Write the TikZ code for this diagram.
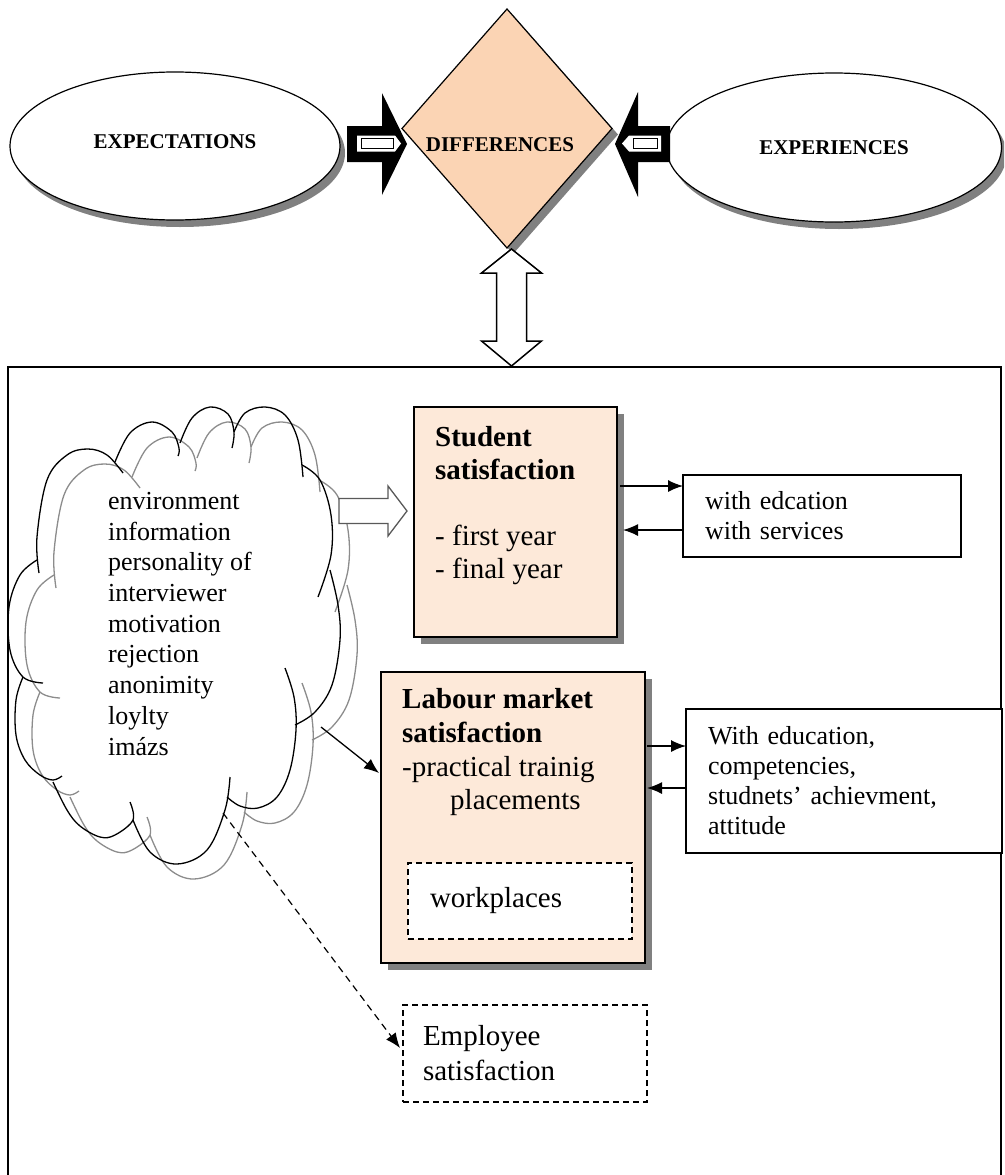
\documentclass[tikz,border=0pt]{standalone}
\usepackage{fontspec}
\setmainfont{Liberation Serif}
\usetikzlibrary{shapes.geometric,shadows,arrows.meta,calc}
\definecolor{peach}{HTML}{FBD4B4}
\definecolor{lightpeach}{HTML}{FDE9D9}
\definecolor{shadowgray}{HTML}{808080}
\definecolor{cloudgray}{HTML}{8C8C8C}
\definecolor{arrowgray}{HTML}{595959}
\begin{document}
\begin{tikzpicture}[x=1pt,y=-1pt,
  bigell/.style={ellipse, draw, line width=1.2pt, fill=white, inner sep=0pt, outer sep=0pt,
     font=\fontsize{21}{25}\selectfont\bfseries,
     drop shadow={shadow xshift=5pt, shadow yshift=-7pt, fill=shadowgray, opacity=1}},
  satbox/.style={rectangle, draw, line width=1.2pt, fill=lightpeach, inner sep=0pt, outer sep=0pt, anchor=north west,
     drop shadow={shadow xshift=7pt, shadow yshift=-7pt, fill=shadowgray, opacity=1}},
  plainbox/.style={rectangle, draw, line width=1.2pt, fill=white, anchor=north west, outer sep=0pt,
     align=left, inner xsep=22pt, inner ysep=0pt, font=\fontsize{26}{30}\selectfont},
  dashbox/.style={rectangle, draw, line width=1.2pt, dash pattern=on 6pt off 4pt, fill=white, anchor=north west,
     outer sep=0pt, align=left, inner ysep=0pt, font=\fontsize{29}{35}\selectfont},
  intext/.style={anchor=north west, inner sep=0pt, align=left},
  arr/.style={line width=1.3pt, -{Latex[length=15pt,width=12pt]}},
  dasharr/.style={line width=1.2pt, dash pattern=on 7pt off 5pt, -{Latex[length=15pt,width=12pt]}},
  cloudline/.style={line width=1.3pt, smooth, tension=0.6}
]
\path[use as bounding box] (0,0) rectangle (1004,1175);
\clip (0,0) rectangle (1004,1175);

% outer frame
\draw[line width=1.5pt] (8,367) rectangle (1001,1200);

% ellipses
\node[bigell, minimum width=330pt, minimum height=148pt, text depth=8pt] (expect) at (175,146) {EXPECTATIONS};
\node[bigell, minimum width=335pt, minimum height=149pt] (exper) at (834,147.5) {EXPERIENCES};

% diamond
\node[diamond, draw, line width=1.2pt, fill=peach, inner sep=0pt, outer sep=0pt,
      minimum width=210pt, minimum height=239pt,
      drop shadow={shadow xshift=6pt, shadow yshift=-6pt, fill=shadowgray, opacity=1}] (dif) at (507,128.5) {};
\node[inner sep=0pt, font=\fontsize{21}{25}\selectfont\bfseries] (diflbl) at ($(dif.center)+(-7,16.5)$) {DIFFERENCES};

% black block arrows
\fill (347,126) -- (382,126) -- (382,93) -- (407,144) -- (382,195) -- (382,162) -- (347,162) -- cycle;
\fill[white] (357,135.5) -- (395,135.5) -- (401,143.5) -- (395,151.5) -- (357,151.5) -- cycle;
\draw[line width=0.9pt, fill=white] (361,138.5) rectangle (393,148.5);
\fill (670,126) -- (638,126) -- (638,92) -- (615,144) -- (638,197) -- (638,162) -- (670,162) -- cycle;
\fill[white] (661,135.5) -- (629,135.5) -- (622,143.5) -- (629,151.5) -- (661,151.5) -- cycle;
\draw[line width=0.9pt, fill=white] (633,138.5) rectangle (657,148.5);

% vertical double arrow
\draw[line width=1.5pt, fill=white] (511.5,249) -- (541.5,273) -- (526.5,273) -- (526.5,341) -- (541.5,341)
  -- (511.5,366) -- (481.5,341) -- (496.5,341) -- (496.5,273) -- (481.5,273) -- cycle;

% cloud (gray copy)
\begin{scope}[shift={(17,15)}]
\draw[cloudline, cloudgray] plot coordinates {(39,573) (37,537) (47,480) (67,455) (88,449) (107,455) (123,473)};
\draw[cloudline, cloudgray] plot coordinates {(115,462) (130,433) (152,422) (172,432) (179,448) (178,456)};
\draw[cloudline, cloudgray] plot coordinates {(180,443) (192,418) (210,407) (228,414) (234,432) (232,448)};
\draw[cloudline, cloudgray] plot coordinates {(234,432) (245,413) (265,407) (285,415) (298,440) (303,477)};
\draw[cloudline, cloudgray] plot coordinates {(302,465) (320,480) (331,515) (331,555) (318,597)};
\draw[cloudline, cloudgray] plot coordinates {(330,570) (338,605) (340,640) (332,685) (315,712) (295,725)};
\draw[cloudline, cloudgray] plot coordinates {(285,668) (294,697) (296,730) (290,770) (277,797) (258,808) (240,806) (227,797)};
\draw[cloudline, cloudgray] plot coordinates {(230,777) (225,810) (207,850) (177,864) (150,852) (133,820)};
\draw[cloudline, cloudgray] plot coordinates {(130,802) (133,820) (115,835) (100,837) (80,826) (67,810) (53,782)};
\draw[cloudline, cloudgray] plot coordinates {(23,677) (16,700) (16,735) (25,760) (40,775) (53,780) (62,776)};
\draw[cloudline, cloudgray] plot coordinates {(37,560) (20,575) (9,607) (10,650) (23,677) (43,683)};
\end{scope}
% cloud (black)
\draw[cloudline] plot coordinates {(39,573) (37,537) (47,480) (67,455) (88,449) (107,455) (123,473)};
\draw[cloudline] plot coordinates {(115,462) (130,433) (152,422) (172,432) (179,448) (178,456)};
\draw[cloudline] plot coordinates {(180,443) (192,418) (210,407) (228,414) (234,432) (232,448)};
\draw[cloudline] plot coordinates {(234,432) (245,413) (265,407) (285,415) (298,440) (303,477)};
\draw[cloudline] plot coordinates {(302,465) (320,480) (331,515) (331,555) (318,597)};
\draw[cloudline] plot coordinates {(330,570) (338,605) (340,640) (332,685) (315,712) (295,725)};
\draw[cloudline] plot coordinates {(285,668) (294,697) (296,730) (290,770) (277,797) (258,808) (240,806) (227,797)};
\draw[cloudline] plot coordinates {(230,777) (225,810) (207,850) (177,864) (150,852) (133,820)};
\draw[cloudline] plot coordinates {(130,802) (133,820) (115,835) (100,837) (80,826) (67,810) (53,782)};
\draw[cloudline] plot coordinates {(23,677) (16,700) (16,735) (25,760) (40,775) (53,780) (62,776)};
\draw[cloudline] plot coordinates {(37,560) (20,575) (9,607) (10,650) (23,677) (43,683)};
\node[intext, font=\fontsize{26}{30.7}\selectfont] (cloudtxt) at (108,492) {environment\\information\\personality of\\interviewer\\motivation\\rejection\\anonimity\\loylty\\imázs};
\coordinate (cloudA) at (321,727);
\coordinate (cloudB) at (223,813);

% gray block arrow cloud -> student
\draw[draw=arrowgray, line width=1.3pt, fill=white] (339,498.5) -- (388,498.5) -- (388,486) -- (407,511)
  -- (388,536) -- (388,523.5) -- (339,523.5) -- cycle;

% student satisfaction
\node[satbox, minimum width=203pt, minimum height=230pt] (stud) at (414,407) {};
\node[intext, font=\fontsize{29}{33}\selectfont] (studtxt) at (435,426.5) {\textbf{Student}\\\textbf{satisfaction}\\[33pt]- first year\\- final year};

% labour market satisfaction
\node[satbox, minimum width=264pt, minimum height=291pt] (lab) at (381,672) {};
\node[intext, font=\fontsize{29}{33.7}\selectfont] (labtxt) at (402,688.5) {\textbf{Labour market}\\\textbf{satisfaction}\\-practical trainig\\\hspace*{48pt}placements};
\node[dashbox, minimum width=224pt, minimum height=76pt, text width=180pt, inner xsep=22pt] (wp) at (408,863) {workplaces};

% right boxes
\node[plainbox, minimum width=278pt, minimum height=82pt, text width=234pt] (w1) at (683,475) {with edcation\\with services};
\node[plainbox, minimum width=316pt, minimum height=144pt, text width=272pt, inner xsep=19pt] (w2) at (686,709) {With education,\\competencies,\\studnets’ achievment,\\attitude};

% employee satisfaction
\node[dashbox, minimum width=244pt, minimum height=97pt, text width=204pt, inner xsep=20pt] (emp) at (403,1005) {Employee\\satisfaction};

% connectors
\draw[arr] ($(stud.east)+(3,-36)$) -- ($(w1.west)+(0,-30)$);
\draw[arr] ($(w1.west)+(0,14)$) -- ($(stud.east)+(6,8)$);
\draw[arr] ($(lab.east)+(2,-71.5)$) -- ($(w2.west)+(0,-35)$);
\draw[arr] ($(w2.west)+(0,7)$) -- ($(lab.east)+(2,-29.5)$);
\draw[arr] (cloudA) -- ($(lab.west)+(-2,-44.5)$);
\draw[dasharr] (cloudB) -- ($(emp.west)+(-3,-5.5)$);
\end{tikzpicture}
\end{document}
